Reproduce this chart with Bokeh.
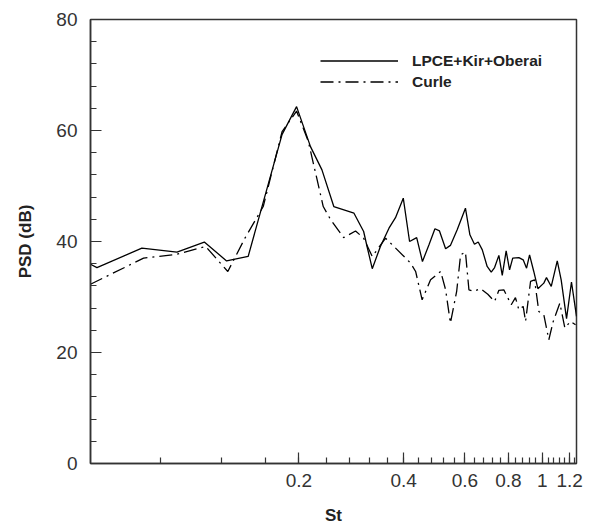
from bokeh.plotting import figure
from bokeh.models import (Range1d, FixedTicker, SingleIntervalTicker, CustomJSTickFormatter,
                          Legend, LegendItem)
from bokeh.embed import file_html
from bokeh.resources import INLINE

# LPCE+Kir+Oberai
st_lpce = [0.0504, 0.0526, 0.0708, 0.0893, 0.107, 0.124, 0.143, 0.179, 0.197, 0.216, 0.233,
           0.252, 0.288, 0.307, 0.314, 0.325, 0.343, 0.363, 0.379, 0.399, 0.416, 0.436, 0.453,
           0.473, 0.492, 0.507, 0.528, 0.545, 0.570, 0.602, 0.620, 0.639, 0.655, 0.673, 0.695,
           0.714, 0.730, 0.751, 0.768, 0.788, 0.806, 0.823, 0.857, 0.882, 0.902, 0.920, 0.946,
           0.972, 1.011, 1.029, 1.062, 1.105, 1.134, 1.175, 1.214, 1.255]
psd_lpce = [35.9, 35.3, 38.8, 38.1, 39.9, 36.5, 37.3, 59.3, 64.3, 57.1, 52.9,
            46.3, 45.1, 41.8, 39.1, 35.1, 39.1, 42.4, 44.3, 47.8, 40.0, 40.7, 36.4,
            39.4, 42.3, 41.9, 38.7, 39.3, 42.1, 46.0, 41.2, 39.5, 39.9, 38.5, 35.5,
            34.5, 35.3, 37.5, 33.9, 38.3, 34.9, 37.0, 37.1, 36.7, 35.2, 37.6, 34.6,
            31.5, 32.5, 33.5, 31.9, 36.5, 33.1, 26.1, 32.7, 26.5]

# Curle
st_curle = [0.0504, 0.0716, 0.0893, 0.108, 0.125, 0.140, 0.158, 0.179, 0.197, 0.213, 0.235,
            0.247, 0.269, 0.291, 0.307, 0.325, 0.355, 0.419, 0.433, 0.452, 0.478, 0.511,
            0.528, 0.545, 0.568, 0.583, 0.602, 0.616, 0.636, 0.665, 0.698, 0.730, 0.751,
            0.776, 0.815, 0.838, 0.857, 0.882, 0.896, 0.926, 0.951, 0.978, 1.011, 1.045,
            1.076, 1.124, 1.162, 1.206, 1.247]
psd_curle = [32.3, 37.0, 37.7, 39.1, 34.6, 40.6, 46.3, 59.8, 63.5, 58.0, 46.3,
             43.9, 40.7, 41.9, 40.6, 37.3, 40.6, 36.1, 34.6, 29.5, 33.1, 34.6,
             31.3, 25.3, 31.0, 37.6, 38.1, 31.3, 31.0, 31.5, 30.5, 29.2, 31.2,
             31.3, 28.6, 29.9, 27.7, 28.3, 25.6, 32.8, 33.1, 27.4, 26.8, 22.3,
             25.6, 28.9, 24.4, 25.6, 25.0]

x_major = [0.2, 0.4, 0.6, 0.8, 1.0, 1.2]
x_minor = [round(0.04 * k, 2) for k in range(2, 32)]
series_names = ["LPCE+Kir+Oberai", "Curle"]

FONT = "Liberation Sans"

p = figure(width=592, height=528, x_axis_type="log",
           x_range=Range1d(0.0504, 1.255), y_range=Range1d(0, 80),
           output_backend="svg", toolbar_location=None,
           min_border_left=90, min_border_right=16, min_border_top=19, min_border_bottom=65)
p.grid.visible = False
p.outline_line_color = "#333333"
p.outline_line_width = 1.5
p.background_fill_color = "white"
p.border_fill_color = "white"

r1 = p.line(st_lpce, psd_lpce, line_color="black", line_width=1.3)
r2 = p.line(st_curle, psd_curle, line_color="black", line_width=1.3, line_dash="13 5 2 5")

xa = p.xaxis[0]
xa.ticker = FixedTicker(ticks=x_major, minor_ticks=x_minor)
xa.formatter = CustomJSTickFormatter(code="return (Math.round(tick*10)/10).toString();")
ya = p.yaxis[0]
ya.ticker = SingleIntervalTicker(interval=20, num_minor_ticks=5)

for ax in (xa, ya):
    ax.axis_line_color = "#333333"
    ax.axis_line_width = 1.5
    ax.major_tick_line_color = "#333333"
    ax.minor_tick_line_color = "#333333"
    ax.major_tick_line_width = 1.2
    ax.minor_tick_line_width = 1.2
    ax.major_tick_in = 11
    ax.major_tick_out = 0
    ax.minor_tick_in = 6
    ax.minor_tick_out = 0
    ax.major_label_text_font = FONT
    ax.major_label_text_font_size = "19px"
    ax.major_label_text_color = "#333333"
    ax.axis_label_text_font = FONT
    ax.axis_label_text_font_size = "17px"
    ax.axis_label_text_font_style = "bold"
    ax.axis_label_text_color = "#222222"

xa.axis_label = "St"
xa.major_label_standoff = 10
xa.axis_label_standoff = 16
ya.axis_label = "PSD (dB)"
ya.major_label_standoff = 13
ya.axis_label_standoff = 18

legend = Legend(items=[LegendItem(label=series_names[0], renderers=[r1]),
                       LegendItem(label=series_names[1], renderers=[r2])],
                location=(230, 371), orientation="vertical")
legend.border_line_color = None
legend.background_fill_alpha = 0
legend.padding = 0
legend.margin = 0
legend.spacing = 0
legend.glyph_width = 78
legend.glyph_height = 21
legend.label_height = 21
legend.label_standoff = 14
legend.label_text_font = FONT
legend.label_text_font_size = "15.5px"
legend.label_text_font_style = "bold"
legend.label_text_color = "#222222"
p.add_layout(legend, "center")

open("out.html", "w").write(file_html(p, INLINE))
